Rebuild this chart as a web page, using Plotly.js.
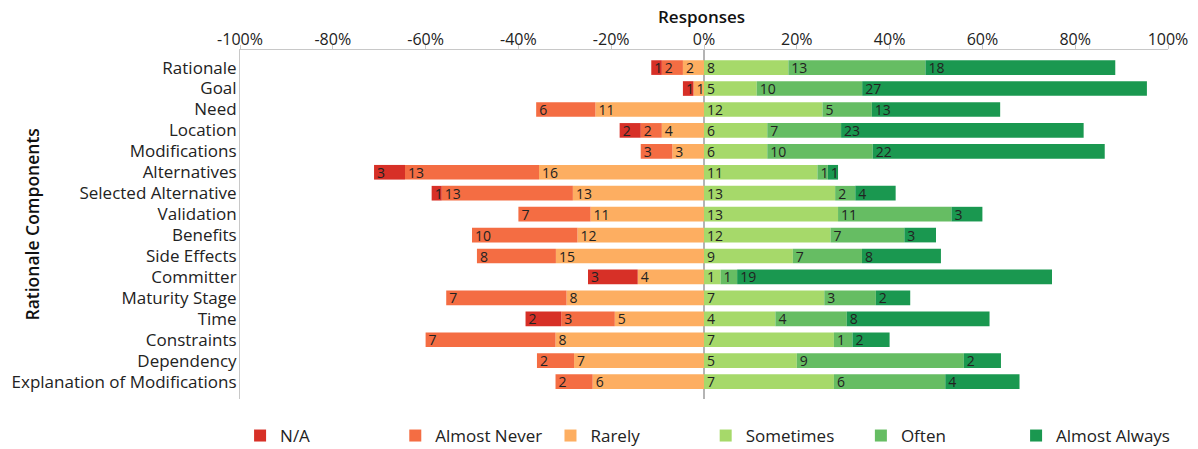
<!DOCTYPE html>
<html>
<head>
<meta charset="utf-8">
<script src="https://cdn.plot.ly/plotly-3.0.1.min.js"></script>
<style>
  html, body { margin: 0; padding: 0; background: #fff; }
  #chart { width: 1198px; height: 449px; }
</style>
</head>
<body>
<div id="chart"></div>
<script>
// Rationale components, listed top to bottom
const categories = [
  'Rationale', 'Goal', 'Need', 'Location', 'Modifications', 'Alternatives',
  'Selected Alternative', 'Validation', 'Benefits', 'Side Effects', 'Committer',
  'Maturity Stage', 'Time', 'Constraints', 'Dependency', 'Explanation of Modifications'
];

// Response counts per component
const naCounts           = [1, 1, 0, 2, 0, 3, 1, 0, 0, 0, 3, 0, 2, 0, 0, 0];
const almostNeverCounts  = [2, 0, 6, 2, 3, 13, 13, 7, 10, 8, 0, 7, 3, 7, 2, 2];
const rarelyCounts       = [2, 1, 11, 4, 3, 16, 13, 11, 12, 15, 4, 8, 5, 8, 7, 6];
const sometimesCounts    = [8, 5, 12, 6, 6, 11, 13, 13, 12, 9, 1, 7, 4, 7, 5, 7];
const oftenCounts        = [13, 10, 5, 7, 10, 1, 2, 11, 7, 7, 1, 3, 4, 1, 9, 6];
const almostAlwaysCounts = [18, 27, 13, 23, 22, 1, 4, 3, 3, 8, 19, 2, 8, 2, 2, 4];

// Axis ticks and titles
const xTickVals = [-100, -80, -60, -40, -20, 0, 20, 40, 60, 80, 100];
const xTickText = ['-100%', '-80%', '-60%', '-40%', '-20%', '0%', '20%', '40%', '60%', '80%', '100%'];
const xTitle = 'Responses';
const yTitle = 'Rationale Components';

// Row totals used to turn counts into shares
const rowTotals = categories.map((_, i) =>
  naCounts[i] + almostNeverCounts[i] + rarelyCounts[i] +
  sometimesCounts[i] + oftenCounts[i] + almostAlwaysCounts[i]);

// Negative-side answers are drawn to the left of zero; the first trace
// in each direction sits next to the zero line.
const series = [
  { name: 'Rarely',        counts: rarelyCounts,       color: '#fdae61', side: -1, rank: 3 },
  { name: 'Almost Never',  counts: almostNeverCounts,  color: '#f46d43', side: -1, rank: 2 },
  { name: 'N/A',           counts: naCounts,           color: '#d73027', side: -1, rank: 1 },
  { name: 'Sometimes',     counts: sometimesCounts,    color: '#a6d96a', side: 1,  rank: 4 },
  { name: 'Often',         counts: oftenCounts,        color: '#66bd63', side: 1,  rank: 5 },
  { name: 'Almost Always', counts: almostAlwaysCounts, color: '#1a9850', side: 1,  rank: 6 }
];

const traces = series.map(s => ({
  type: 'bar',
  orientation: 'h',
  name: s.name,
  legendrank: s.rank,
  y: categories,
  x: s.counts.map((c, i) => c === 0 ? null : s.side * c / rowTotals[i] * 100),
  text: s.counts.map(c => c === 0 ? '' : String(c)),
  textposition: 'inside',
  insidetextanchor: s.side < 0 ? 'end' : 'start',
  textangle: 0,
  constraintext: 'none',
  insidetextfont: { family: 'Open Sans', size: 14, color: '#222' },
  marker: { color: s.color, line: { width: 0 } },
  hovertemplate: '%{y}: %{text}<extra>' + s.name + '</extra>'
}));

const layout = {
  width: 1198,
  height: 449,
  margin: { l: 240, r: 30, t: 50, b: 50 },
  paper_bgcolor: '#fff',
  plot_bgcolor: '#fff',
  font: { family: 'Open Sans', size: 16, color: '#222' },
  barmode: 'relative',
  bargap: 0.3,
  uniformtext: { mode: 'show', minsize: 14 },
  xaxis: {
    side: 'top',
    range: [-100, 100],
    tickvals: xTickVals,
    ticktext: xTickText,
    ticks: 'outside',
    ticklen: 4,
    tickcolor: '#c8c8c8',
    ticklabelstandoff: -6,
    showline: true,
    linecolor: '#c8c8c8',
    linewidth: 1,
    showgrid: false,
    zeroline: true,
    zerolinecolor: '#b4b4b4',
    zerolinewidth: 2,
    tickfont: { size: 16, color: '#222' },
    automargin: false,
    fixedrange: true
  },
  yaxis: {
    type: 'category',
    categoryorder: 'array',
    categoryarray: categories,
    tickmode: 'array',
    tickvals: categories,
    range: [15.83, -0.84],
    showline: true,
    linecolor: '#c8c8c8',
    linewidth: 1,
    showgrid: false,
    zeroline: false,
    ticks: '',
    ticklabelstandoff: -1,
    tickfont: { size: 17, color: '#222' },
    automargin: false,
    fixedrange: true
  },
  annotations: [
    {
      text: xTitle, xref: 'paper', yref: 'paper',
      x: 0.4968, y: 1.0946, xanchor: 'center', yanchor: 'middle',
      showarrow: false, font: { size: 17, weight: 600, color: '#111' }
    },
    {
      text: yTitle, xref: 'paper', yref: 'paper',
      x: -0.2252, y: 0.5, xanchor: 'center', yanchor: 'middle',
      textangle: -90, showarrow: false,
      font: { size: 17.5, weight: 600, color: '#111' }
    }
  ],
  showlegend: true,
  legend: {
    orientation: 'h',
    traceorder: 'normal',
    entrywidth: 110.2,
    entrywidthmode: 'pixels',
    xref: 'container',
    yref: 'container',
    x: 0.2004,
    xanchor: 'left',
    y: 0.029,
    yanchor: 'middle',
    font: { size: 17, color: '#222' },
    bgcolor: 'rgba(0,0,0,0)'
  }
};

Plotly.newPlot('chart', traces, layout, { displayModeBar: false, staticPlot: true });
</script>
</body>
</html>
